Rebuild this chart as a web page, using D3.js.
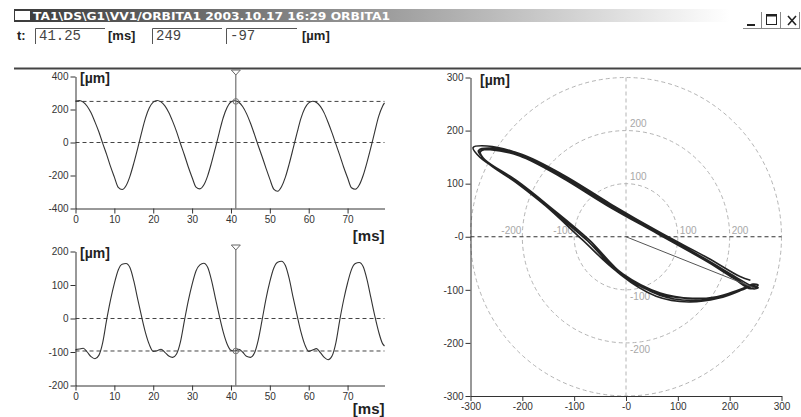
<!DOCTYPE html>
<html>
<head>
<meta charset="utf-8">
<script src="https://cdnjs.cloudflare.com/ajax/libs/d3/7.8.5/d3.min.js"></script>
<style>
body { margin: 0; background: #fff; }
svg { display: block; font-family: "Liberation Sans", Arial, sans-serif; }
.tick text { font-size: 10px; fill: #333; }
.tick line, .domain { stroke: #333; }
.unit { font-weight: bold; fill: #222; }
.ring { font-size: 10px; fill: #a8a8a8; }
</style>
</head>
<body>
<svg id="chart" width="801" height="417"></svg>
<script>
let width = 801;
let height = 417;
let titleText = 'TA1\\DS\\G1\\VV1/ORBITA1 2003.10.17 16:29 ORBITA1';

// cursor readout
let cursorTime = 41.25;
let cursorValues = [249, -97];

// sampled signals [µm] vs time [ms]
let timeMs = [0,1,2,3,4,5,6,7,8,9,10,11,12,13,14,15,16,17,18,19,
              20,21,22,23,24,25,26,27,28,29,30,31,32,33,34,35,36,37,38,39,
              40,41,42,43,44,45,46,47,48,49,50,51,52,53,54,55,56,57,58,59,
              60,61,62,63,64,65,66,67,68,69,70,71,72,73,74,75,76,77,78,79,79.5];
let signalA = [252,255,245,220,180,125,65,-5,-72,-145,
               -210,-272,-285,-262,-205,-125,-35,60,148,210,
               245,255,246,222,182,128,66,-6,-74,-147,
               -212,-270,-281,-258,-202,-122,-32,62,150,212,
               246,253,244,218,175,118,52,-18,-85,-155,
               -222,-282,-295,-268,-210,-128,-36,58,146,207,
               240,250,243,219,178,121,58,-10,-78,-150,
               -214,-274,-283,-258,-200,-120,-30,66,158,220,240];
let signalB = [-93,-91,-89,-100,-114,-120,-110,-72,-5,55,
               105,145,162,164,152,112,58,6,-42,-78,
               -98,-96,-92,-101,-112,-116,-106,-70,-8,52,
               102,142,160,165,153,114,60,8,-40,-76,
               -95,-97,-92,-100,-113,-116,-104,-65,-5,58,
               110,150,168,171,158,118,62,10,-40,-78,
               -98,-94,-90,-102,-116,-123,-112,-72,-4,56,
               106,146,164,167,155,116,62,8,-40,-75,-82];

let timeTicks = [0, 10, 20, 30, 40, 50, 60, 70];
let upperTicks = [-400, -200, 0, 200, 400];
let lowerTicks = [-200, -100, 0, 100, 200];
let orbitTicks = [-300, -200, -100, 0, 100, 200, 300];
let orbitRings = [100, 200, 300];
let ringLabelsV = [200, 100, -100, -200];
let ringLabelsH = [-200, -100, 100, 200];

let svg, xT, yA, yB, xO, yO;
let plain = d => String(d);   // keep ascii hyphen for negatives

function drawHeader() {
    let defs = svg.append('defs');
    let grad = defs.append('linearGradient').attr('id', 'titlegrad')
        .attr('x1', 0).attr('x2', 1).attr('y1', 0).attr('y2', 0);
    grad.append('stop').attr('offset', '0%').attr('stop-color', '#3a3a3a');
    grad.append('stop').attr('offset', '45%').attr('stop-color', '#8e8e8e');
    grad.append('stop').attr('offset', '100%').attr('stop-color', '#ffffff');

    svg.append('rect').attr('x', 14).attr('y', 9).attr('width', 716).attr('height', 13)
        .attr('fill', 'url(#titlegrad)');
    svg.append('rect').attr('x', 15).attr('y', 11).attr('width', 15).attr('height', 9)
        .attr('fill', '#fff');
    svg.append('text').attr('x', 33).attr('y', 20)
        .attr('textLength', 357).attr('lengthAdjust', 'spacingAndGlyphs')
        .style('font-family', '"DejaVu Sans", sans-serif').style('font-weight', 'bold')
        .style('font-size', '11px').attr('fill', '#fff')
        .text(titleText);

    // window buttons
    let btn = svg.append('g').attr('stroke', '#888').attr('fill', 'none');
    [743, 762, 781].forEach(x0 => {
        btn.append('path').attr('d', `M${x0},28.5H${x0 + 18.5}M${x0 + 18.5},12V29`);
    });
    svg.append('rect').attr('x', 747).attr('y', 24).attr('width', 8).attr('height', 2).attr('fill', '#222');
    svg.append('rect').attr('x', 766.5).attr('y', 14.5).attr('width', 10).attr('height', 10)
        .attr('fill', 'none').attr('stroke', '#222');
    svg.append('rect').attr('x', 766.5).attr('y', 14.5).attr('width', 10).attr('height', 2).attr('fill', '#222');
    svg.append('path').attr('d', 'M788,16L796,25M796,16L788,25').attr('stroke', '#222').attr('stroke-width', 1.6);

    // readout row
    svg.append('text').attr('class', 'unit').attr('x', 17).attr('y', 39.5)
        .style('font-size', '13px').text('t:');
    let boxes = [[35, 105, String(cursorTime)], [152, 222, String(cursorValues[0])], [226, 297, String(cursorValues[1])]];
    boxes.forEach(b => {
        svg.append('path').attr('d', `M${b[1]},28.5H${b[0] + 0.5}V44`)
            .attr('stroke', '#555').attr('fill', 'none');
        svg.append('text').attr('x', b[0] + 4).attr('y', 40)
            .style('font-family', '"Liberation Mono", monospace').style('font-size', '14px')
            .attr('fill', '#444').text(b[2]);
    });
    svg.append('text').attr('class', 'unit').attr('x', 108).attr('y', 39.5)
        .style('font-size', '13px').text('[ms]');
    svg.append('text').attr('class', 'unit').attr('x', 302).attr('y', 39.5)
        .style('font-size', '13px').text('[µm]');

    svg.append('line').attr('x1', 14).attr('x2', width).attr('y1', 68.5).attr('y2', 68.5)
        .attr('stroke', '#444').attr('stroke-width', 2);
}

function drawTimePlot(values, yScale, yTicks, cursorValue) {
    let g = svg.append('g');
    let y0 = yScale.range()[0], y1 = yScale.range()[1];
    let x0 = xT.range()[0], x1 = xT.range()[1];

    // dashed reference lines
    [0, cursorValue].forEach(v => {
        g.append('line').attr('x1', x0).attr('x2', x1)
            .attr('y1', yScale(v)).attr('y2', yScale(v))
            .attr('stroke', '#444').attr('stroke-dasharray', '4,3');
    });

    g.append('g').attr('transform', `translate(0,${y0})`)
        .call(d3.axisBottom(xT).tickValues(timeTicks).tickFormat(plain)
            .tickSize(5).tickPadding(2).tickSizeOuter(0));
    g.append('g').attr('transform', `translate(${x0},0)`)
        .call(d3.axisLeft(yScale).tickValues(yTicks).tickFormat(plain)
            .tickSize(5).tickPadding(2).tickSizeOuter(0));

    let line = d3.line()
        .x((d, i) => xT(timeMs[i]))
        .y(d => yScale(d))
        .curve(d3.curveMonotoneX);
    g.append('path').datum(values).attr('d', line)
        .attr('fill', 'none').attr('stroke', '#333').attr('stroke-width', 1.1);

    // cursor
    let cx = xT(cursorTime);
    g.append('line').attr('x1', cx).attr('x2', cx).attr('y1', y1 - 1.5).attr('y2', y0)
        .attr('stroke', '#555');
    g.append('path').attr('d', `M${cx - 4.5},${y1 - 6.5}H${cx + 4.5}L${cx},${y1 - 1.5}Z`)
        .attr('fill', '#fff').attr('stroke', '#666');
    g.append('circle').attr('cx', cx).attr('cy', yScale(cursorValue)).attr('r', 2.8)
        .attr('fill', 'none').attr('stroke', '#777');

    g.append('text').attr('class', 'unit').attr('x', 80).attr('y', y1 + 6.7)
        .style('font-size', '14px').text('[µm]');
    g.append('text').attr('class', 'unit').attr('x', x1).attr('y', Math.min(y0 + 32.5, height - 3.5))
        .attr('text-anchor', 'end').style('font-size', '15px').text('[ms]');
}

function drawOrbit() {
    let g = svg.append('g');
    let cx = xO(0), cy = yO(0);
    let fmt = d => d === 0 ? '-0' : String(d);

    orbitRings.forEach(r => {
        g.append('ellipse').attr('cx', cx).attr('cy', cy)
            .attr('rx', xO(r) - cx).attr('ry', cy - yO(r))
            .attr('fill', 'none').attr('stroke', '#b4b4b4').attr('stroke-dasharray', '4,3');
    });
    g.append('line').attr('x1', cx).attr('x2', cx).attr('y1', yO.range()[1]).attr('y2', yO.range()[0])
        .attr('stroke', '#b4b4b4').attr('stroke-dasharray', '4,3');
    g.append('line').attr('x1', xO.range()[0]).attr('x2', xO.range()[1]).attr('y1', cy).attr('y2', cy)
        .attr('stroke', '#333').attr('stroke-dasharray', '4,3');

    ringLabelsV.forEach(v => {
        g.append('text').attr('class', 'ring').attr('x', cx + 4)
            .attr('y', v > 0 ? yO(v) - 3.5 : yO(v) + 10.5).text(v);
    });
    ringLabelsH.forEach(v => {
        g.append('text').attr('class', 'ring')
            .attr('x', v < 0 ? xO(v) - 1 : xO(v) + 2).attr('y', cy - 3)
            .attr('text-anchor', v < 0 ? 'end' : 'start').text(v);
    });

    g.append('g').attr('transform', `translate(0,${yO.range()[0]})`)
        .call(d3.axisBottom(xO).tickValues(orbitTicks).tickFormat(fmt).tickSize(5).tickPadding(2).tickSizeOuter(0));
    g.append('g').attr('transform', `translate(${xO.range()[0]},0)`)
        .call(d3.axisLeft(yO).tickValues(orbitTicks).tickFormat(fmt).tickSize(5).tickPadding(2).tickSizeOuter(0));

    let orbit = d3.line()
        .x(i => xO(signalA[i]))
        .y(i => yO(signalB[i]))
        .curve(d3.curveCatmullRom);
    g.append('path').datum(d3.range(timeMs.length)).attr('d', orbit)
        .attr('fill', 'none').attr('stroke', '#222').attr('stroke-width', 1.6);

    g.append('line').attr('x1', cx).attr('y1', cy)
        .attr('x2', xO(cursorValues[0])).attr('y2', yO(cursorValues[1]))
        .attr('stroke', '#555');

    g.append('text').attr('class', 'unit').attr('x', 480).attr('y', yO.range()[1] + 7)
        .style('font-size', '14px').text('[µm]');
}

function main() {
    svg = d3.select('#chart');
    xT = d3.scaleLinear().domain([0, 79.5]).range([75.5, 384.5]);
    yA = d3.scaleLinear().domain([-400, 400]).range([208.5, 76.5]);
    yB = d3.scaleLinear().domain([-200, 200]).range([385.5, 251.5]);
    xO = d3.scaleLinear().domain([-300, 300]).range([470.5, 781.5]);
    yO = d3.scaleLinear().domain([-300, 300]).range([396, 77.5]);

    drawHeader();
    drawTimePlot(signalA, yA, upperTicks, cursorValues[0]);
    drawTimePlot(signalB, yB, lowerTicks, cursorValues[1]);
    drawOrbit();
}

main();
</script>
</body>
</html>
